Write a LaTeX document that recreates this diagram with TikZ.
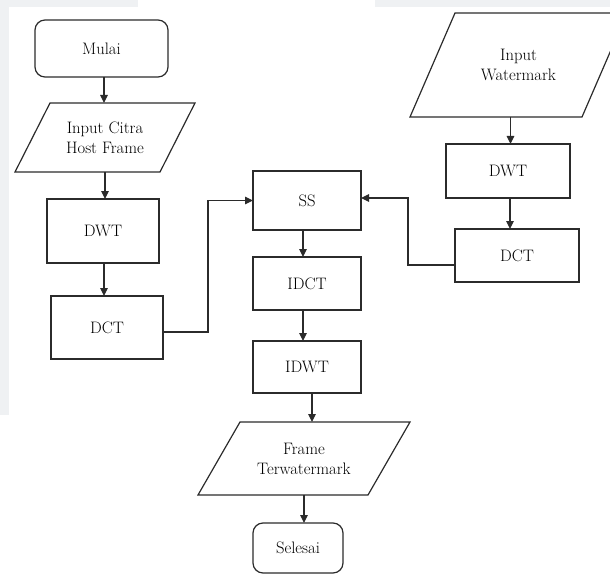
\documentclass[tikz,border=0pt]{standalone}
\usetikzlibrary{arrows.meta}
\definecolor{edge}{HTML}{2B2B2B}
\definecolor{paper}{HTML}{EFF1F3}
\tikzset{
  lbl/.style={font=\fontsize{16.6}{20}\selectfont},
  box/.style={draw=edge, line width=1.2pt, rectangle, align=center, inner sep=0pt, outer sep=0pt, lbl},
  term/.style={box, rounded corners=10pt},
  iotext/.style={rectangle, align=center, inner sep=0pt, outer sep=0pt, lbl},
  iobox/.style={draw=edge, line width=1.2pt, line join=miter},
  flow/.style={draw=edge, line width=1.2pt, -{Triangle[length=8pt,width=7.5pt]}},
}
\begin{document}
\begin{tikzpicture}[x=1pt, y=-1pt]
  \useasboundingbox (0,0) rectangle (610,575);
  \clip (0,0) rectangle (610,575);
  % light grey page margins
  \fill[paper] (0,0) rectangle (138,7);
  \fill[paper] (375,0) rectangle (610,7);
  \fill[paper] (0,0) rectangle (9,415);

  % left column
  \node[term, minimum width=133pt, minimum height=57pt] (mulai) at (101.5,48.5) {Mulai};
  \node[iotext, minimum width=145pt, minimum height=69pt] (in1) at (105,137.5) {Input Citra\\Host Frame};
  \draw[iobox] ([xshift=17.5pt]in1.north west) -- ([xshift=17.5pt]in1.north east)
     -- ([xshift=-17.5pt]in1.south east) -- ([xshift=-17.5pt]in1.south west) -- cycle;
  \node[box, minimum width=112pt, minimum height=64pt] (dwt1) at (103,231) {DWT};
  \node[box, minimum width=112pt, minimum height=63pt] (dct1) at (107,327.5) {DCT};

  % middle column
  \node[box, minimum width=108pt, minimum height=59pt] (ss) at (307,200.5) {SS};
  \node[box, minimum width=108pt, minimum height=53pt] (idct) at (307,283.5) {IDCT};
  \node[box, minimum width=108pt, minimum height=52pt] (idwt) at (307,367) {IDWT};
  \node[iotext, minimum width=170pt, minimum height=73pt] (frame) at (304,458.5) {Frame\\Terwatermark};
  \draw[iobox] ([xshift=21pt]frame.north west) -- ([xshift=21pt]frame.north east)
     -- ([xshift=-21pt]frame.south east) -- ([xshift=-21pt]frame.south west) -- cycle;
  \node[term, minimum width=90pt, minimum height=50pt] (selesai) at (298,548) {Selesai};

  % right column
  \node[iotext, minimum width=172pt, minimum height=104pt] (inw) at (518.5,65) {Input\\Watermark};
  \draw[iobox] ([xshift=22.5pt]inw.north west) -- ([xshift=22.5pt]inw.north east)
     -- ([xshift=-22.5pt]inw.south east) -- ([xshift=-22.5pt]inw.south west) -- cycle;
  \node[box, minimum width=124pt, minimum height=54pt] (dwt2) at (508,171) {DWT};
  \node[box, minimum width=124pt, minimum height=53pt] (dct2) at (517,255.5) {DCT};

  % connectors
  \draw[flow] ([xshift=2.5pt]mulai.south) -- ([xshift=2.5pt]mulai.south |- in1.north);
  \draw[flow] (in1.south) -- (in1.south |- dwt1.north);
  \draw[flow] ([xshift=1pt]dwt1.south) -- ([xshift=1pt]dwt1.south |- dct1.north);
  \draw[flow] ([yshift=-4.5pt]dct1.east) -- ++(45,0) |- (ss.west);
  \draw[flow] ([yshift=-9.5pt]dct2.west) -- ++(-47,0) |- ([yshift=2.5pt]ss.east);
  \draw[flow] ([xshift=-4pt]ss.south) -- ([xshift=-4pt]ss.south |- idct.north);
  \draw[flow] ([xshift=-4pt]idct.south) -- ([xshift=-4pt]idct.south |- idwt.north);
  \draw[flow] ([xshift=5pt]idwt.south) -- ([xshift=5pt]idwt.south |- frame.north);
  \draw[flow] (frame.south) -- (frame.south |- selesai.north);
  \draw[flow] ([xshift=-8pt]inw.south) -- ([xshift=-8pt]inw.south |- dwt2.north);
  \draw[flow] ([xshift=2pt]dwt2.south) -- ([xshift=2pt]dwt2.south |- dct2.north);
\end{tikzpicture}
\end{document}
